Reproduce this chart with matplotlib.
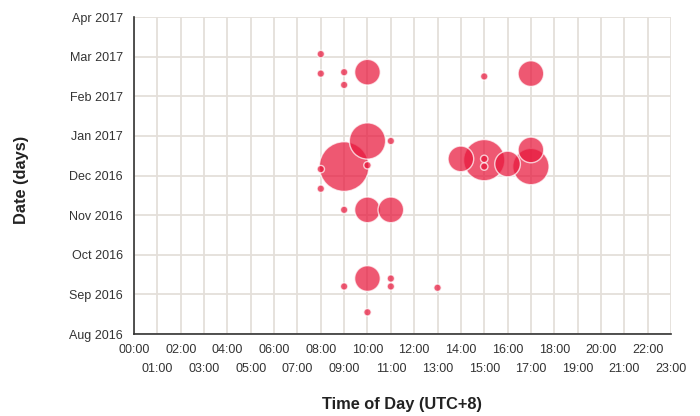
import numpy as np
import pandas as pd
import matplotlib
matplotlib.use("Agg")
import matplotlib.pyplot as plt

plt.rcParams['font.family'] = ['Liberation Sans', 'DejaVu Sans']

# hour of day (UTC+8), date, number of events
hours = [8, 8, 9, 9, 10, 15, 17,
         10, 11, 9, 8, 10, 8,
         9, 10, 11,
         14, 15, 15, 15, 16, 17, 17,
         10, 9, 11, 11, 13, 10]
dates = ['2017-03-03', '2017-02-17', '2017-02-18', '2017-02-09', '2017-02-18', '2017-02-15', '2017-02-17',
         '2016-12-28', '2016-12-28', '2016-12-08', '2016-12-06', '2016-12-09', '2016-11-21',
         '2016-11-05', '2016-11-05', '2016-11-05',
         '2016-12-14', '2016-12-13', '2016-12-14', '2016-12-08', '2016-12-10', '2016-12-21', '2016-12-08',
         '2016-09-13', '2016-09-07', '2016-09-13', '2016-09-07', '2016-09-06', '2016-08-18']
counts = [1, 1, 1, 1, 12, 1, 12,
          24, 1, 45, 1, 1, 1,
          1, 12, 12,
          12, 31, 1, 1, 12, 12, 24,
          12, 1, 1, 1, 1, 1]

month_labels = ['Aug 2016', 'Sep 2016', 'Oct 2016', 'Nov 2016', 'Dec 2016',
                'Jan 2017', 'Feb 2017', 'Mar 2017', 'Apr 2017']

df = pd.DataFrame({'hour': hours, 'date': pd.to_datetime(dates), 'count': counts})
# months since Aug 2016, with the day as a fraction of its month
d = df['date']
df['month_pos'] = ((d.dt.year - 2016) * 12 + d.dt.month - 8
                   + (d.dt.day - 1) / d.dt.days_in_month)
# big bubbles first, small ones on top
df = df.sort_values('count', ascending=False, kind='stable')

fig = plt.figure(figsize=(7, 4.16), dpi=100)
ax = fig.add_axes([134 / 700, 1 - 334 / 416, 537 / 700, 317 / 416])

ax.scatter(df['hour'], df['month_pos'], s=df['count'] * 28.4,
           color='#e8173c', alpha=0.72, edgecolor='white', linewidth=1.0, zorder=3)

ax.set_xlim(0, 23)
ax.set_ylim(0, 8)

ax.set_xticks(range(0, 24, 2))
ax.set_xticklabels(['%02d:00' % h for h in range(0, 24, 2)])
ax.set_xticks(range(1, 24, 2), minor=True)
ax.set_xticklabels(['%02d:00' % h for h in range(1, 24, 2)], minor=True)
ax.tick_params(axis='x', which='major', length=0, pad=7, labelsize=9, labelcolor='#333333')
ax.tick_params(axis='x', which='minor', length=0, pad=21, labelsize=9, labelcolor='#333333')

ax.set_yticks(range(9))
ax.set_yticklabels(month_labels)
ax.tick_params(axis='y', length=0, pad=8, labelsize=9, labelcolor='#333333')

ax.grid(True, which='both', color='#e4dfda', linewidth=1.3, zorder=0)
ax.set_axisbelow(True)

for side in ['top', 'right']:
    ax.spines[side].set_visible(False)
for side in ['left', 'bottom']:
    ax.spines[side].set_color('#333333')
    ax.spines[side].set_linewidth(1.2)

ax.set_xlabel('Time of Day (UTC+8)', fontsize=11.8, fontweight='bold', color='#222222', va='center')
ax.xaxis.set_label_coords(0.5, -71 / 317)
ax.set_ylabel('Date (days)', fontsize=11.8, fontweight='bold', color='#222222', va='center')
ax.yaxis.set_label_coords(-112 / 537, 0.487)

fig.savefig('out.png', dpi=100)
